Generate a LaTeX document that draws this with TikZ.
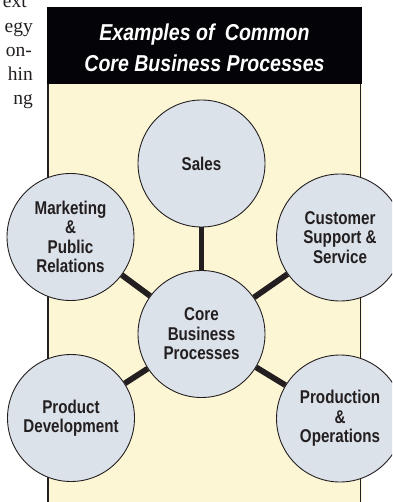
\documentclass[tikz,border=0pt]{standalone}
\usepackage{fontspec}
\setmainfont{Liberation Serif}
\newfontfamily\headfont{Liberation Sans}[FakeStretch=0.85]
\newfontfamily\bubblefont{Liberation Sans}[FakeStretch=0.82]

\definecolor{panelyellow}{HTML}{FCF6D5}
\definecolor{bubblegray}{HTML}{DCE2E9}
\definecolor{inkgray}{HTML}{231F20}
\definecolor{headblack}{HTML}{030308}

\begin{document}
\begin{tikzpicture}[
    x=1pt, y=-1pt,
    line cap=butt,
    bubble/.style={circle, draw=inkgray, line width=0.9pt, fill=bubblegray,
        minimum size=127pt, inner sep=0pt, align=center, text=inkgray,
        font=\bubblefont\bfseries\fontsize{18.5}{19.5}\selectfont},
    spoke/.style={draw=inkgray, line width=5.8pt},
    margintext/.style={anchor=base east, inner sep=0pt, text=inkgray,
        font=\fontsize{19.5}{24}\selectfont}
]

% --- Definitions ---
\def\panelL{47}   % left edge of the box
\def\panelR{362}  % right edge of the box
\def\headTop{7}
\def\headBot{84}

\useasboundingbox (0,0) rectangle (392,502);
\clip (0,0) rectangle (392,502);

% --- Running text at the left margin ---
\node[margintext] (line1) at (27,8) {ext};
\node[margintext] (line2) at (33,33) {egy};
\node[margintext] (line3) at (32,57) {on-};
\node[margintext] (line4) at (33,81) {hin};
\node[margintext] (line5) at (33,105) {ng};

% --- Box: yellow panel and black title bar ---
\fill[panelyellow] (\panelL,\headBot) rectangle (\panelR,510);
\draw[inkgray, line width=1.6pt] (\panelL+1,\headBot) -- (\panelL+1,510);
\draw[inkgray, line width=1.6pt] (\panelR-1.5,\headBot) -- (\panelR-1.5,510);
\fill[headblack] (\panelL,\headTop) rectangle (\panelR,\headBot);

\node[text=white, align=center, inner sep=0pt,
      font=\headfont\bfseries\itshape\fontsize{23}{31}\selectfont]
    (title) at (204.5,48) {Examples of\hspace{0.45em}Common\\Core Business Processes};

% --- Bubbles ---
\node[bubble] (core)       at (201.5,334)   {Core\\Business\\Processes};
\node[bubble] (sales)      at (201.5,163.5) {Sales};
\node[bubble] (marketing)  at (70.5,237)    {Marketing\\\&\\Public\\Relations};
\node[bubble] (customer)   at (340,237.5)   {Customer\\Support \&\\Service};
\node[bubble] (product)    at (71,418)      {Product\\Development};
\node[bubble] (operations) at (340,418.5)   {Production\\\&\\Operations};

% --- Spokes from the centre ---
\foreach \outer in {sales, marketing, customer, product, operations}
    \draw[spoke] (core) -- (\outer);

\end{tikzpicture}
\end{document}
